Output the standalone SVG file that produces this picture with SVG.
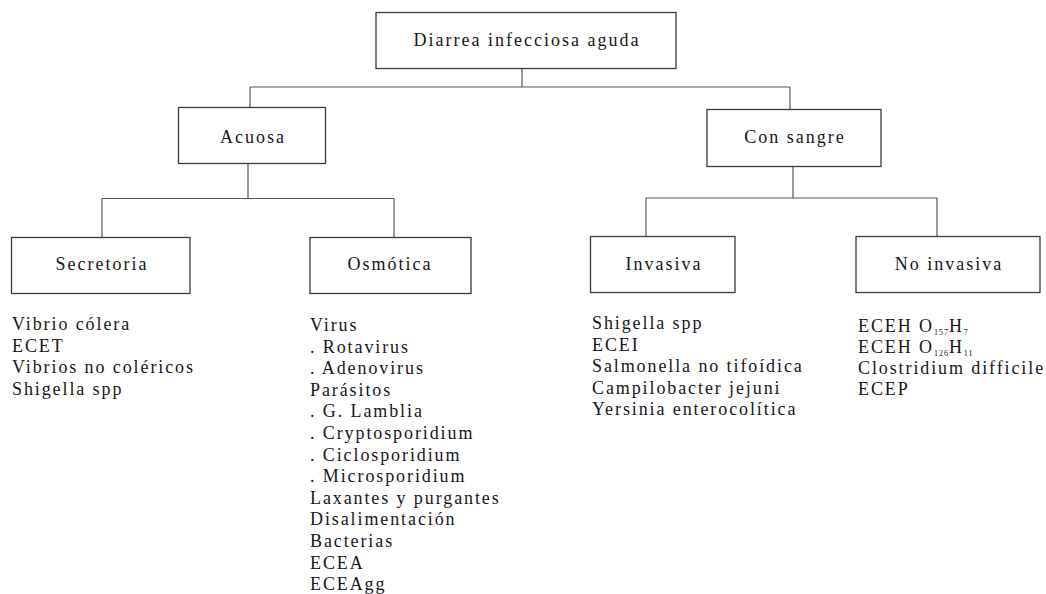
<svg xmlns="http://www.w3.org/2000/svg" width="1046" height="594" viewBox="0 0 1046 594">
<style>
.box{fill:#fff;stroke:#3a3a3a;stroke-width:1.3}
.lbl{font-family:"Liberation Serif","Times New Roman",serif;font-size:18px;letter-spacing:2px;fill:#161620;text-anchor:middle}
.lst{font-family:"Liberation Serif","Times New Roman",serif;font-size:18px;letter-spacing:1.9px;fill:#161620}
.sub{font-size:8px;letter-spacing:1px}
#connectors path{fill:none;stroke:#555;stroke-width:1.2}
</style>
<rect width="1046" height="594" fill="#fff"/>
<g id="connectors">
<path d="M522 69 V87 M250 87 H790 M250 87 V107 M790 87 V109"/>
<path d="M248 163 V198.5 M102 198.5 H394 M102 198.5 V237 M394 198.5 V237"/>
<path d="M793 166 V198 M646 198 H937 M646 198 V236 M937 198 V236"/>
</g>
<g id="root"><rect class="box" x="376" y="12.5" width="300" height="56"/><text class="lbl" x="527" y="46">Diarrea infecciosa aguda</text></g>
<g id="acuosa"><rect class="box" x="178.5" y="107.5" width="147" height="56"/><text class="lbl" x="253" y="143">Acuosa</text></g>
<g id="consangre"><rect class="box" x="707" y="109.5" width="174" height="57"/><text class="lbl" x="795" y="143">Con sangre</text></g>
<g id="secretoria"><rect class="box" x="11.5" y="237.5" width="178.5" height="56"/><text class="lbl" x="102" y="270">Secretoria</text>
<text class="lst" x="12"><tspan x="12" y="330">Vibrio cólera</tspan><tspan x="12" y="351.5">ECET</tspan><tspan x="12" y="373">Vibrios no coléricos</tspan><tspan x="12" y="394.5">Shigella spp</tspan></text></g>
<g id="osmotica"><rect class="box" x="310" y="237.5" width="161" height="56"/><text class="lbl" x="390" y="270">Osmótica</text>
<text class="lst"><tspan x="310" y="331">Virus</tspan><tspan x="310" y="352.6">. Rotavirus</tspan><tspan x="310" y="374.2">. Adenovirus</tspan><tspan x="310" y="395.8">Parásitos</tspan><tspan x="310" y="417.4">. G. Lamblia</tspan><tspan x="310" y="439">. Cryptosporidium</tspan><tspan x="310" y="460.6">. Ciclosporidium</tspan><tspan x="310" y="482.2">. Microsporidium</tspan><tspan x="310" y="503.8">Laxantes y purgantes</tspan><tspan x="310" y="525.4">Disalimentación</tspan><tspan x="310" y="547">Bacterias</tspan><tspan x="310" y="568.6">ECEA</tspan><tspan x="310" y="590.2">ECEAgg</tspan></text></g>
<g id="invasiva"><rect class="box" x="590.5" y="236.5" width="144.5" height="56"/><text class="lbl" x="664" y="269.5">Invasiva</text>
<text class="lst"><tspan x="592" y="329">Shigella spp</tspan><tspan x="592" y="350.5">ECEI</tspan><tspan x="592" y="372">Salmonella no tifoídica</tspan><tspan x="592" y="393.5">Campilobacter jejuni</tspan><tspan x="592" y="415">Yersinia enterocolítica</tspan></text></g>
<g id="noinvasiva"><rect class="box" x="856" y="236.5" width="184" height="56"/><text class="lbl" x="949" y="269.5">No invasiva</text>
<text class="lst"><tspan x="858" y="332">ECEH O</tspan><tspan class="sub" dy="3">157</tspan><tspan dy="-3">H</tspan><tspan class="sub" dy="3">7</tspan></text>
<text class="lst"><tspan x="858" y="353">ECEH O</tspan><tspan class="sub" dy="3">126</tspan><tspan dy="-3">H</tspan><tspan class="sub" dy="3">11</tspan></text>
<text class="lst"><tspan x="858" y="374">Clostridium difficile</tspan><tspan x="858" y="395">ECEP</tspan></text></g>
</svg>
